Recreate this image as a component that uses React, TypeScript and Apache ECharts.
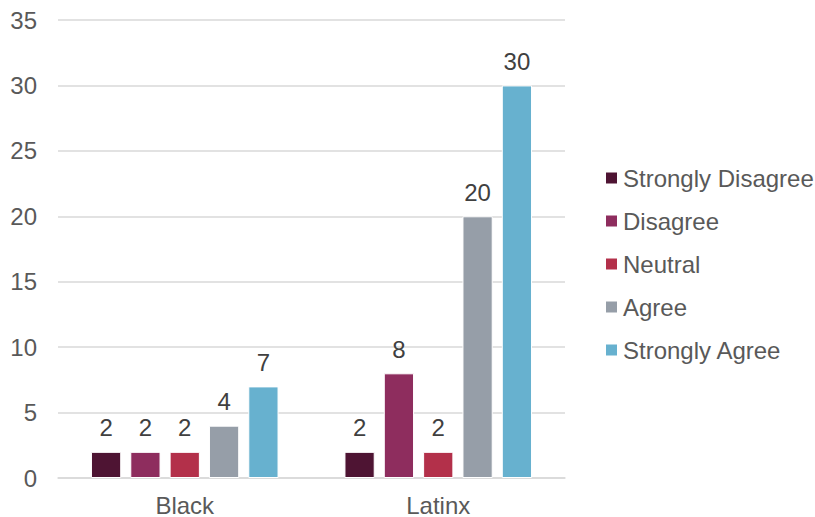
import React, { useEffect, useRef } from "react";
import * as echarts from "echarts";

const categories = ["Black", "Latinx"];
const seriesNames = ["Strongly Disagree", "Disagree", "Neutral", "Agree", "Strongly Agree"];
const stronglyDisagree = [2, 2];
const disagree = [2, 8];
const neutral = [2, 2];
const agree = [4, 20];
const stronglyAgree = [7, 30];
const colors = ["#4E1433", "#8E2D5E", "#B3304A", "#969EA8", "#67B1CF"];

export default function App() {
  const ref = useRef<HTMLDivElement>(null);
  useEffect(() => {
    if (!ref.current) return;
    const chart = echarts.init(ref.current, null, { renderer: "svg" });
    const values = [stronglyDisagree, disagree, neutral, agree, stronglyAgree];
    const font = "Liberation Sans, Arial, sans-serif";
    chart.setOption({
      animation: false,
      color: colors,
      grid: { left: 58, right: 250, top: 20, bottom: 39, containLabel: false },
      legend: {
        orient: "vertical",
        left: 599,
        top: 161,
        itemWidth: 13,
        itemHeight: 13,
        itemGap: 19,
        icon: "rect",
        data: seriesNames,
        textStyle: { color: "#595959", fontSize: 24, fontFamily: font },
      },
      xAxis: {
        type: "category",
        data: categories,
        axisLine: { lineStyle: { color: "#d9d9d9", width: 1.5 } },
        axisTick: { show: false },
        axisLabel: { color: "#595959", fontSize: 24, fontFamily: font, margin: 15 },
      },
      yAxis: {
        type: "value",
        min: 0,
        max: 35,
        interval: 5,
        axisLine: { show: false },
        axisTick: { show: false },
        splitLine: { lineStyle: { color: "#d9d9d9", width: 1.5 } },
        axisLabel: { color: "#595959", fontSize: 24, fontFamily: font, margin: 21 },
      },
      series: seriesNames.map((name, i) => ({
        name,
        type: "bar",
        data: values[i],
        barGap: "30%",
        barCategoryGap: "26%",
        itemStyle: { color: colors[i], borderColor: "#ffffff", borderWidth: 1 },
        label: {
          show: true,
          position: "top",
          distance: 12,
          color: "#404040",
          fontSize: 24,
          fontFamily: font,
        },
      })),
    });
    return () => chart.dispose();
  }, []);
  return <div ref={ref} style={{ width: 815, height: 517, position: "absolute", left: 0, top: 0 }} />;
}
